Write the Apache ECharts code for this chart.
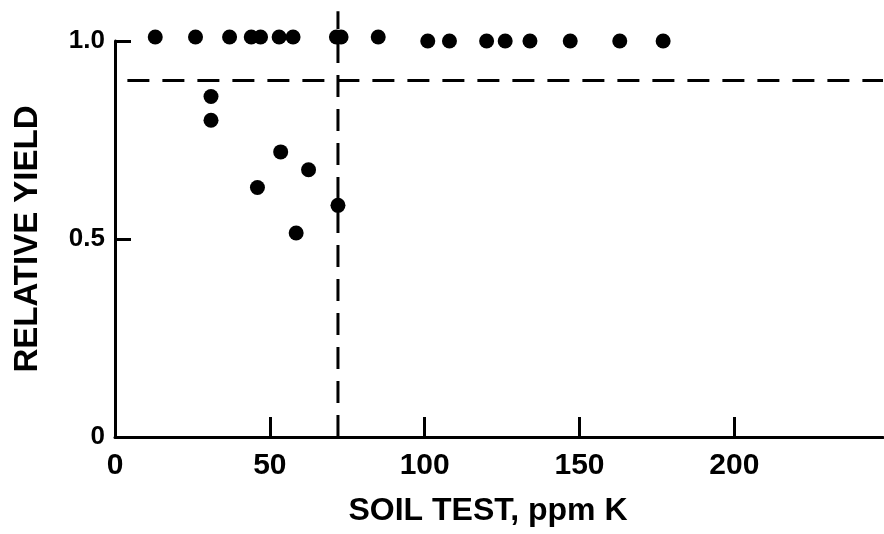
<!DOCTYPE html>
<html>
<head>
<meta charset="utf-8">
<title>Relative yield vs soil test K</title>
<script src="https://cdn.jsdelivr.net/npm/echarts@6/dist/echarts.min.js"></script>
<style>
  html, body { margin: 0; padding: 0; background: #fff; }
  #chart { width: 884px; height: 534px; }
</style>
</head>
<body>
<div id="chart"></div>
<script>
// Soil test potassium (ppm K) and relative yield for each site
const soilTestK = [13, 26, 37, 44, 47, 53, 57.5, 71.5, 73, 85,
                   101, 108, 120, 126, 134, 147, 163, 177,
                   31, 31, 53.5, 62.5, 46, 72, 58.5];
const relativeYield = [1.01, 1.01, 1.01, 1.01, 1.01, 1.01, 1.01, 1.01, 1.01, 1.01,
                       1.0, 1.0, 1.0, 1.0, 1.0, 1.0, 1.0, 1.0,
                       0.86, 0.80, 0.72, 0.675, 0.63, 0.585, 0.515];

// Critical soil test level and critical relative yield
const criticalK = 72;
const criticalYield = 0.9;
const criticalKLine = [[criticalK, 0], [criticalK, 1.075]];
const criticalYieldLine = [[4, criticalYield], [248, criticalYield]];

const xTicks = [0, 50, 100, 150, 200];
const yTicks = [0, 0.5, 1.0];

const FONT = 'Liberation Sans';
const points = soilTestK.map((k, i) => [k, relativeYield[i]]);

const chart = echarts.init(document.getElementById('chart'), null, { renderer: 'canvas' });
chart.setOption({
  backgroundColor: '#ffffff',
  animation: false,
  grid: { left: 115, right: 1, top: 41, bottom: 97, containLabel: false },
  xAxis: {
    type: 'value', min: 0, max: 248, interval: 50,
    name: 'SOIL TEST, ppm K',
    nameLocation: 'middle', nameGap: 58,
    nameTextStyle: { fontFamily: FONT, fontWeight: 'bold', fontSize: 32, color: '#000', padding: [0, 22, 0, 0] },
    axisLine: { show: true, lineStyle: { color: '#000', width: 3 } },
    axisTick: { show: true, inside: true, length: 20, customValues: xTicks.slice(1), lineStyle: { color: '#000', width: 3 } },
    axisLabel: {
      margin: 14, fontFamily: FONT, fontWeight: 'bold', fontSize: 30, color: '#000',
      customValues: xTicks, formatter: v => String(v)
    },
    splitLine: { show: false }
  },
  yAxis: {
    type: 'value', min: 0, max: 1.0, interval: 0.5,
    name: 'RELATIVE YIELD',
    nameLocation: 'middle', nameGap: 71, nameRotate: 90,
    nameTextStyle: { fontFamily: FONT, fontWeight: 'bold', fontSize: 33, color: '#000' },
    axisLine: { show: true, lineStyle: { color: '#000', width: 3 } },
    axisTick: { show: true, inside: true, length: 16, customValues: yTicks.slice(1), lineStyle: { color: '#000', width: 3 } },
    axisLabel: {
      margin: 10, fontFamily: FONT, fontWeight: 'bold', fontSize: 26, color: '#000',
      customValues: yTicks, formatter: v => (v === 0 ? '0' : v.toFixed(1))
    },
    splitLine: { show: false }
  },
  series: [
    {
      type: 'line', data: criticalYieldLine, symbol: 'none', clip: false,
      lineStyle: { color: '#000', width: 3, type: [22, 13] }, z: 2
    },
    {
      type: 'line', data: criticalKLine, symbol: 'none', clip: false,
      lineStyle: { color: '#000', width: 3, type: [22, 12] }, z: 2
    },
    {
      type: 'scatter', data: points, symbol: 'circle', symbolSize: 15, clip: false,
      itemStyle: { color: '#000', opacity: 1 }, z: 3
    }
  ]
});
</script>
</body>
</html>
